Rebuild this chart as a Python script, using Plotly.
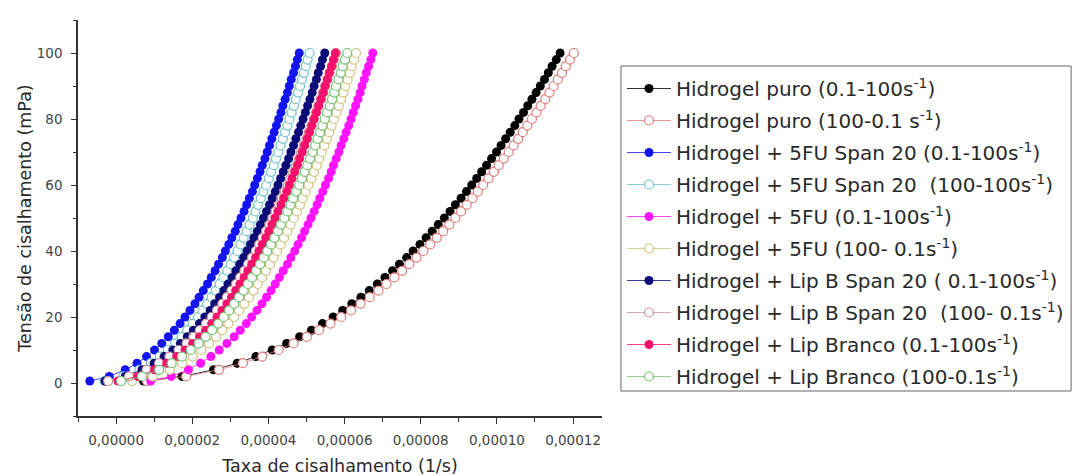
import plotly.graph_objects as go

# Shear stress levels (mPa), shared by every sweep
tensao = [0.6, 2, 4, 6, 8, 10, 12, 14, 16, 18, 20, 22, 24, 26, 28, 30, 32, 34, 36, 38,
          40, 42, 44, 46, 48, 50, 52, 54, 56, 58, 60, 62, 64, 66, 68, 70, 72, 74, 76, 78,
          80, 82, 84, 86, 88, 90, 92, 94, 96, 98, 100]

# Shear rate values in units of 1e-5 (1/s)
taxa_puro_ida = [0.72, 1.73, 2.56, 3.18, 3.67, 4.10, 4.48, 4.82, 5.13, 5.42,
                 5.70, 5.95, 6.19, 6.43, 6.65, 6.86, 7.06, 7.26, 7.44, 7.63,
                 7.80, 7.98, 8.14, 8.30, 8.46, 8.62, 8.77, 8.91, 9.06, 9.20,
                 9.34, 9.47, 9.60, 9.73, 9.86, 9.99, 10.11, 10.23, 10.35, 10.47,
                 10.58, 10.70, 10.81, 10.92, 11.03, 11.14, 11.25, 11.35, 11.45, 11.56, 11.66]
taxa_puro_volta = [0.81, 1.84, 2.70, 3.33, 3.84, 4.27, 4.66, 5.01, 5.33, 5.63,
                   5.91, 6.17, 6.42, 6.66, 6.89, 7.10, 7.31, 7.51, 7.70, 7.89,
                   8.07, 8.25, 8.42, 8.59, 8.75, 8.91, 9.06, 9.21, 9.36, 9.50,
                   9.64, 9.78, 9.92, 10.05, 10.18, 10.31, 10.44, 10.56, 10.68, 10.80,
                   10.92, 11.04, 11.15, 11.27, 11.38, 11.49, 11.60, 11.71, 11.81, 11.92, 12.02]
taxa_5fu_span_ida = [-0.69, -0.18, 0.24, 0.55, 0.80, 1.01, 1.20, 1.37, 1.53, 1.68,
                     1.81, 1.94, 2.07, 2.18, 2.29, 2.40, 2.50, 2.60, 2.69, 2.79,
                     2.87, 2.96, 3.04, 3.13, 3.20, 3.28, 3.36, 3.43, 3.50, 3.58,
                     3.64, 3.71, 3.78, 3.84, 3.91, 3.97, 4.03, 4.09, 4.15, 4.21,
                     4.27, 4.33, 4.38, 4.44, 4.50, 4.55, 4.60, 4.66, 4.71, 4.76, 4.81]
taxa_5fu_span_volta = [-0.30, 0.19, 0.61, 0.91, 1.15, 1.36, 1.55, 1.72, 1.87, 2.01,
                       2.15, 2.27, 2.39, 2.51, 2.62, 2.72, 2.82, 2.92, 3.01, 3.10,
                       3.19, 3.27, 3.35, 3.43, 3.51, 3.59, 3.66, 3.73, 3.80, 3.87,
                       3.94, 4.01, 4.07, 4.14, 4.20, 4.26, 4.32, 4.38, 4.44, 4.50,
                       4.55, 4.61, 4.67, 4.72, 4.78, 4.83, 4.88, 4.93, 4.98, 5.03, 5.08]
taxa_5fu_ida = [0.91, 1.45, 1.90, 2.22, 2.49, 2.71, 2.91, 3.10, 3.26, 3.42,
                3.56, 3.70, 3.83, 3.95, 4.07, 4.18, 4.29, 4.39, 4.50, 4.59,
                4.69, 4.78, 4.87, 4.95, 5.04, 5.12, 5.20, 5.28, 5.35, 5.43,
                5.50, 5.58, 5.65, 5.71, 5.78, 5.85, 5.91, 5.98, 6.04, 6.11,
                6.17, 6.23, 6.29, 6.35, 6.41, 6.46, 6.52, 6.57, 6.63, 6.69, 6.74]
taxa_5fu_volta = [0.42, 0.96, 1.41, 1.74, 2.01, 2.24, 2.44, 2.63, 2.79, 2.95,
                  3.10, 3.23, 3.37, 3.49, 3.61, 3.72, 3.83, 3.94, 4.04, 4.14,
                  4.23, 4.32, 4.41, 4.50, 4.58, 4.67, 4.75, 4.83, 4.90, 4.98,
                  5.05, 5.13, 5.20, 5.27, 5.34, 5.40, 5.47, 5.54, 5.60, 5.66,
                  5.72, 5.79, 5.85, 5.91, 5.97, 6.02, 6.08, 6.14, 6.19, 6.25, 6.30]
taxa_lipb_ida = [-0.29, 0.24, 0.68, 1.00, 1.26, 1.49, 1.69, 1.87, 2.03, 2.19,
                 2.33, 2.47, 2.59, 2.72, 2.83, 2.94, 3.05, 3.15, 3.25, 3.35,
                 3.44, 3.53, 3.62, 3.71, 3.79, 3.87, 3.95, 4.03, 4.10, 4.18,
                 4.25, 4.32, 4.39, 4.46, 4.53, 4.59, 4.66, 4.72, 4.79, 4.85,
                 4.91, 4.97, 5.03, 5.09, 5.15, 5.20, 5.26, 5.31, 5.37, 5.42, 5.48]
taxa_lipb_volta = [-0.21, 0.34, 0.80, 1.13, 1.40, 1.64, 1.85, 2.03, 2.20, 2.36,
                   2.51, 2.65, 2.79, 2.91, 3.03, 3.15, 3.26, 3.37, 3.47, 3.57,
                   3.67, 3.76, 3.85, 3.94, 4.03, 4.11, 4.19, 4.28, 4.35, 4.43,
                   4.51, 4.58, 4.65, 4.72, 4.80, 4.86, 4.93, 5.00, 5.06, 5.13,
                   5.19, 5.25, 5.31, 5.38, 5.44, 5.49, 5.55, 5.61, 5.67, 5.72, 5.78]
taxa_branco_ida = [0.05, 0.57, 1.01, 1.33, 1.59, 1.81, 2.01, 2.19, 2.35, 2.51,
                   2.65, 2.78, 2.91, 3.03, 3.14, 3.25, 3.36, 3.46, 3.56, 3.66,
                   3.75, 3.84, 3.93, 4.01, 4.09, 4.17, 4.25, 4.33, 4.40, 4.48,
                   4.55, 4.62, 4.69, 4.76, 4.82, 4.89, 4.95, 5.02, 5.08, 5.14,
                   5.20, 5.26, 5.32, 5.38, 5.44, 5.49, 5.55, 5.60, 5.66, 5.71, 5.76]
taxa_branco_volta = [0.13, 0.68, 1.13, 1.46, 1.73, 1.96, 2.17, 2.35, 2.52, 2.68,
                     2.83, 2.97, 3.10, 3.23, 3.35, 3.46, 3.57, 3.68, 3.78, 3.88,
                     3.97, 4.07, 4.16, 4.25, 4.33, 4.42, 4.50, 4.58, 4.65, 4.73,
                     4.81, 4.88, 4.95, 5.02, 5.09, 5.16, 5.23, 5.29, 5.36, 5.42,
                     5.48, 5.54, 5.61, 5.67, 5.73, 5.78, 5.84, 5.90, 5.95, 6.01, 6.07]

nomes = [
    "Hidrogel puro (0.1-100s<sup>-1</sup>)",
    "Hidrogel puro (100-0.1 s<sup>-1</sup>)",
    "Hidrogel + 5FU Span 20 (0.1-100s<sup>-1</sup>)",
    "Hidrogel + 5FU Span 20  (100-100s<sup>-1</sup>)",
    "Hidrogel + 5FU (0.1-100s<sup>-1</sup>)",
    "Hidrogel + 5FU (100- 0.1s<sup>-1</sup>)",
    "Hidrogel + Lip B Span 20 ( 0.1-100s<sup>-1</sup>)",
    "Hidrogel + Lip B Span 20  (100- 0.1s<sup>-1</sup>)",
    "Hidrogel + Lip Branco (0.1-100s<sup>-1</sup>)",
    "Hidrogel + Lip Branco (100-0.1s<sup>-1</sup>)",
]
series_taxa = [taxa_puro_ida, taxa_puro_volta, taxa_5fu_span_ida, taxa_5fu_span_volta,
               taxa_5fu_ida, taxa_5fu_volta, taxa_lipb_ida, taxa_lipb_volta,
               taxa_branco_ida, taxa_branco_volta]
cores = ["#000000", "#e27b7b", "#1414f0", "#6cc3cc", "#ff14ff",
         "#cfc27a", "#0c0c78", "#c99494", "#f5126c", "#74c274"]
preenchido = [True, False, True, False, True, False, True, False, True, False]

UNIDADE = 1e-5

# Figure geometry (pixels)
LARGURA, ALTURA = 1080, 476
MARG_E, MARG_D, MARG_T, MARG_B = 78, 477, 20, 60
area_w = LARGURA - MARG_E - MARG_D
area_h = ALTURA - MARG_T - MARG_B


def px_x(px):
    return (px - MARG_E) / area_w


def px_y(py):
    return (ALTURA - MARG_B - py) / area_h


fig = go.Figure()
for i, (nome, taxa, cor, cheio) in enumerate(zip(nomes, series_taxa, cores, preenchido)):
    fig.add_trace(go.Scatter(
        x=[v * UNIDADE for v in taxa],
        y=tensao,
        name=nome,
        legendgroup=f"g{i}",
        mode="lines+markers",
        line=dict(color=cor, width=0.8),
        marker=dict(
            symbol="circle",
            size=9,
            color=cor if cheio else "white",
            line=dict(color=cor, width=0 if cheio else 1.2),
        ),
    ))

# Frame around the legend
fig.add_shape(
    type="rect", xref="paper", yref="paper",
    x0=px_x(622), x1=px_x(1073), y0=px_y(391), y1=px_y(66),
    line=dict(color="#666666", width=1), fillcolor="rgba(0,0,0,0)",
    layer="below",
)

eixo_cor = "#333333"
fig.update_layout(
    width=LARGURA,
    height=ALTURA,
    margin=dict(l=MARG_E, r=MARG_D, t=MARG_T, b=MARG_B),
    paper_bgcolor="white",
    plot_bgcolor="white",
    separators=",.",
    font=dict(family="DejaVu Sans", color="#333333"),
    showlegend=True,
    legend=dict(
        x=px_x(622), y=px_y(69), xanchor="left", yanchor="top",
        bgcolor="rgba(0,0,0,0)", borderwidth=0,
        font=dict(family="DejaVu Sans", size=20, color="#2a2a2a"),
        tracegroupgap=3,
        itemwidth=44,
        traceorder="grouped",
    ),
    xaxis=dict(
        range=[-0.00001, 0.0001276],
        automargin=False,
        tick0=0, dtick=0.00002,
        tickformat=".5f",
        showgrid=False, zeroline=False,
        showline=True, linecolor=eixo_cor, linewidth=1.6,
        ticks="outside", ticklen=6, tickwidth=1.3, tickcolor=eixo_cor,
        minor=dict(ticks="outside", ticklen=4, tickwidth=1.2, tickcolor=eixo_cor, dtick=0.00001, showgrid=False),
        tickfont=dict(family="DejaVu Sans", size=13.5, color="#444444"),
        ticklabelstandoff=5,
        title=dict(text="Taxa de cisalhamento (1/s)", standoff=14,
                   font=dict(family="DejaVu Sans", size=17.5, color="#2a2a2a")),
    ),
    yaxis=dict(
        range=[-10, 110],
        automargin=False,
        tick0=0, dtick=20,
        showgrid=False, zeroline=False,
        showline=True, linecolor=eixo_cor, linewidth=1.6,
        ticks="outside", ticklen=5, tickwidth=1.3, tickcolor=eixo_cor,
        minor=dict(ticks="outside", ticklen=3, tickwidth=1.2, tickcolor=eixo_cor, dtick=10, showgrid=False),
        tickfont=dict(family="DejaVu Sans", size=13.5, color="#444444"),
        ticklabelstandoff=6,
        title=dict(text="Tensão de cisalhamento (mPa)", standoff=1,
                   font=dict(family="DejaVu Sans", size=17.5, color="#2a2a2a")),
    ),
)

fig.write_html("out.html")
